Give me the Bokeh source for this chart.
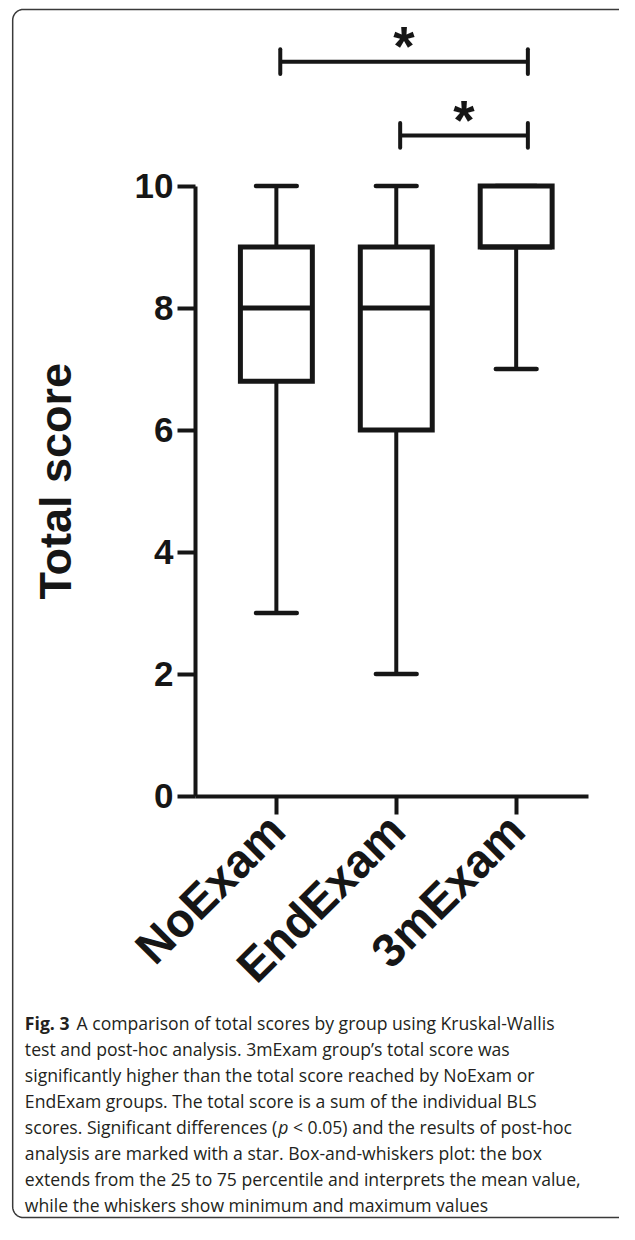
import math
from bokeh.plotting import figure
from bokeh.models import Range1d, LinearAxis, FixedTicker
from bokeh.core.properties import value
from bokeh.embed import file_html
from bokeh.resources import INLINE

# ---------------- data ----------------
groups = ["NoExam", "EndExam", "3mExam"]
mins = [3, 2, 7]
q1s = [6.8, 6.0, 9.0]
medians = [8, 8, 9]
q3s = [9, 9, 10]
maxs = [10, 10, 10]

y_ticks = [0, 2, 4, 6, 8, 10]
y_label = "Total score"

# significance brackets: (from group, to group), level on the score axis, mark
sig_from = [0, 1]
sig_to = [2, 2]
sig_level = [12.04, 10.83]
sig_mark = ["*", "*"]

caption_bold = "Fig. 3"
caption_lines = [
    "A comparison of total scores by group using Kruskal-Wallis",
    "test and post-hoc analysis. 3mExam group\u2019s total score was",
    "significantly higher than the total score reached by NoExam or",
    "EndExam groups. The total score is a sum of the individual BLS",
    "scores. Significant differences (|p|< 0.05) and the results of post-hoc",
    "analysis are marked with a star. Box-and-whiskers plot: the box",
    "extends from the 25 to 75 percentile and interprets the mean value,",
    "while the whiskers show minimum and maximum values",
]

# ---------------- layout ----------------
W, H = 619, 1224            # figure size (fits the window with its 8px margin)
REF_W, REF_H = 635, 1240    # design grid
G0_PX = 283.0               # grid x of first group
G_STEP = 123.0              # grid px per group
Y0_PX = 806.0               # grid y of score 0
Y_STEP = 61.8               # grid px per score unit
INK = "#161616"
AX_FONT = "Liberation Sans"
CAP_FONT = "Open Sans"


def X(px):
    return 1 + (px - G0_PX) / G_STEP


def Y(py):
    return (Y0_PX - py) / Y_STEP


p = figure(width=W, height=H, output_backend="svg", toolbar_location=None,
           x_axis_type=None, y_axis_type=None,
           x_range=Range1d(X(0), X(REF_W)), y_range=Range1d(Y(REF_H), Y(0)),
           min_border=0, min_border_left=0, min_border_right=0,
           min_border_top=0, min_border_bottom=0)
p.outline_line_color = None
p.background_fill_color = "white"
p.border_fill_color = "white"

# outer panel frame (open to the right, rounded left corners)
FL, FT, FB, FR, RAD = 12.5, 9.0, 1233.0, 760.0, 11.0
fx, fy = [FR, FL + RAD], [FT, FT]
for k in range(0, 11):
    a = math.pi / 2 + k * (math.pi / 2) / 10
    fx.append(FL + RAD + RAD * math.cos(a))
    fy.append(FT + RAD - RAD * math.sin(a))
for k in range(0, 11):
    a = math.pi + k * (math.pi / 2) / 10
    fx.append(FL + RAD + RAD * math.cos(a))
    fy.append(FB - RAD - RAD * math.sin(a))
fx.append(FR)
fy.append(FB)
p.line(x=[X(v) for v in fx], y=[Y(v) for v in fy], line_color="#3a3a3a", line_width=1.5)

xs = [i + 1 for i in range(len(groups))]
BOX_HALF = 0.30
CAP_HALF = 0.17

# whiskers
p.segment(x0=xs, y0=q3s, x1=xs, y1=maxs, line_color=INK, line_width=4)
p.segment(x0=xs, y0=q1s, x1=xs, y1=mins, line_color=INK, line_width=4)
# caps
p.segment(x0=[x - CAP_HALF for x in xs], y0=maxs, x1=[x + CAP_HALF for x in xs], y1=maxs,
          line_color=INK, line_width=4.5, line_cap="round")
p.segment(x0=[x - CAP_HALF for x in xs], y0=mins, x1=[x + CAP_HALF for x in xs], y1=mins,
          line_color=INK, line_width=4.5, line_cap="round")
# boxes
p.quad(left=[x - BOX_HALF for x in xs], right=[x + BOX_HALF for x in xs],
       bottom=q1s, top=q3s, fill_color="white", line_color=INK, line_width=5,
       line_join="miter")
# medians
p.segment(x0=[x - BOX_HALF for x in xs], y0=medians, x1=[x + BOX_HALF for x in xs], y1=medians,
          line_color=INK, line_width=5)

# significance brackets
L_OFF = 4 / G_STEP
R_OFF = 12 / G_STEP
TICK_H = 12.5 / Y_STEP
bx0 = [xs[a] + L_OFF for a in sig_from]
bx1 = [xs[b] + R_OFF for b in sig_to]
p.segment(x0=bx0, y0=sig_level, x1=bx1, y1=sig_level, line_color=INK, line_width=4)
p.segment(x0=bx0, y0=[l - TICK_H for l in sig_level], x1=bx0, y1=[l + TICK_H for l in sig_level],
          line_color=INK, line_width=4, line_cap="round")
p.segment(x0=bx1, y0=[l - TICK_H for l in sig_level], x1=bx1, y1=[l + TICK_H for l in sig_level],
          line_color=INK, line_width=4, line_cap="round")
p.text(x=[(a + b) / 2 for a, b in zip(bx0, bx1)], y=[l + 16 / Y_STEP for l in sig_level], text=sig_mark,
       text_font=value(AX_FONT), text_font_style="bold", text_font_size="55px",
       text_align="center", text_baseline="alphabetic", text_color=INK)

# axes
yaxis = LinearAxis(fixed_location=X(200), bounds=(0, 10), ticker=FixedTicker(ticks=y_ticks))
xaxis = LinearAxis(fixed_location=0, bounds=(X(200), X(603)), ticker=FixedTicker(ticks=xs),
                   major_label_overrides={x: g for x, g in zip(xs, groups)})
for ax in (yaxis, xaxis):
    ax.axis_line_color = INK
    ax.axis_line_width = 4
    ax.major_tick_line_color = INK
    ax.major_tick_line_width = 4
    ax.major_tick_out = 18
    ax.major_tick_in = 0
    ax.minor_tick_out = 0
    ax.minor_tick_in = 0
    ax.major_label_text_font = AX_FONT
    ax.major_label_text_font_style = "bold"
    ax.major_label_text_color = INK
yaxis.major_label_text_font_size = "35px"
yaxis.major_label_standoff = 4
xaxis.major_label_text_font_size = "47px"
xaxis.major_label_orientation = math.pi / 4
xaxis.major_label_standoff = 8
p.add_layout(yaxis, "left")
p.add_layout(xaxis, "below")

# y axis title
p.text(x=[X(56)], y=[Y(487)], text=[y_label], angle=math.pi / 2,
       text_font=value(AX_FONT), text_font_style="bold", text_font_size="45px",
       text_align="center", text_baseline="middle", text_color=INK)

# caption
CAP_X = 25
CAP_Y0 = 1036
CAP_DY = 26.3
CAP_SIZE = "17.6px"
CAP_COLOR = "#231f20"
cap_kw = dict(text_font=value(CAP_FONT), text_font_size=CAP_SIZE, text_color=CAP_COLOR,
              text_align="left", text_baseline="middle")
p.text(x=[X(CAP_X)], y=[Y(CAP_Y0)], text=[caption_bold], text_font_style="bold", **cap_kw)
p.text(x=[X(CAP_X + 53)], y=[Y(CAP_Y0)], text=[caption_lines[0]], **cap_kw)
for i, line in enumerate(caption_lines[1:], start=1):
    yy = Y(CAP_Y0 + i * CAP_DY)
    if "|" in line:
        a, it, b = line.split("|")
        p.text(x=[X(CAP_X)], y=[yy], text=[a], **cap_kw)
        p.text(x=[X(CAP_X + 260)], y=[yy], text=[it], text_font_style="italic", **cap_kw)
        p.text(x=[X(CAP_X + 275)], y=[yy], text=[b], **cap_kw)
    else:
        p.text(x=[X(CAP_X)], y=[yy], text=[line], **cap_kw)

open("out.html", "w").write(file_html(p, INLINE))
